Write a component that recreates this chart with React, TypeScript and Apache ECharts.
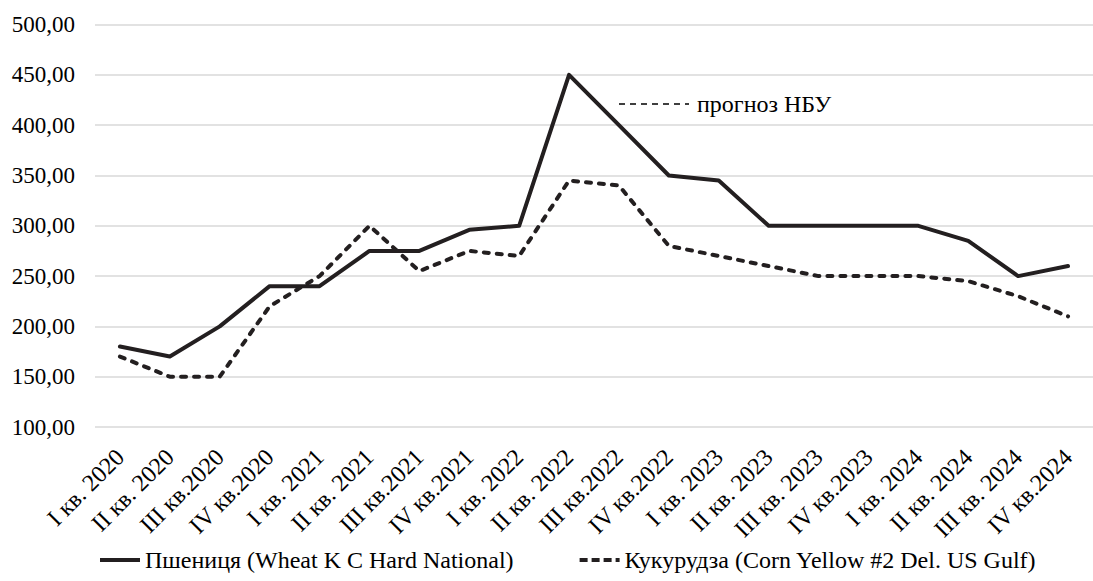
import React, { useEffect, useRef } from "react";
import * as echarts from "echarts";

const categories = [
  "I кв. 2020", "II кв. 2020", "III кв.2020", "IV кв.2020",
  "I кв. 2021", "II кв. 2021", "III кв.2021", "IV кв.2021",
  "I кв. 2022", "II кв. 2022", "III кв.2022", "IV кв.2022",
  "I кв. 2023", "II кв. 2023", "III кв. 2023", "IV кв.2023",
  "I кв. 2024", "II кв. 2024", "III кв. 2024", "IV кв.2024",
];

const wheat = [180, 170, 200, 240, 240, 275, 275, 296, 300, 450, 400, 350, 345, 300, 300, 300, 300, 285, 250, 260];
const corn = [170, 150, 150, 220, 250, 300, 255, 275, 270, 345, 340, 280, 270, 260, 250, 250, 250, 245, 230, 210];

const wheatName = "Пшениця (Wheat K C Hard National)";
const cornName = "Кукурудза (Corn Yellow #2 Del. US Gulf)";
const noteText = "прогноз НБУ";

const FONT = "Liberation Serif";
const INK = "#231f20";

const solidIcon = "path://M0,0H40V4H0Z";
const dashedIcon = "path://M0,0H8V4H0Z M12,0H20V4H12Z M24,0H32V4H24Z M36,0H40V4H36Z";

export default function App() {
  const ref = useRef<HTMLDivElement>(null);
  useEffect(() => {
    if (!ref.current) return;
    const chart = echarts.init(ref.current, undefined, { renderer: "svg" });
    chart.setOption({
      animation: false,
      backgroundColor: "#ffffff",
      textStyle: { fontFamily: FONT },
      grid: { left: 95, top: 24.6, width: 1008, height: 402.4, containLabel: false },
      xAxis: {
        type: "category",
        data: categories,
        boundaryGap: true,
        axisLine: { show: false },
        axisTick: { show: false },
        axisLabel: { rotate: 45, interval: 0, margin: 26, fontSize: 24, color: "#000", fontFamily: FONT },
      },
      yAxis: {
        type: "value",
        min: 100,
        max: 500,
        interval: 50,
        axisLine: { show: false },
        axisTick: { show: false },
        splitLine: { lineStyle: { color: "#d9d9d9", width: 1.5 } },
        axisLabel: {
          fontSize: 23,
          color: "#000",
          fontFamily: FONT,
          margin: 20,
          formatter: (v: number) => v.toFixed(2).replace(".", ","),
        },
      },
      legend: {
        bottom: 4,
        left: 95,
        itemWidth: 40,
        itemHeight: 4,
        itemGap: 66,
        textStyle: { fontSize: 24, color: "#000", fontFamily: FONT },
        data: [
          { name: wheatName, icon: solidIcon, itemStyle: { color: INK } },
          { name: cornName, icon: dashedIcon, itemStyle: { color: INK } },
        ],
      },
      series: [
        {
          name: wheatName,
          type: "line",
          data: wheat,
          symbol: "none",
          lineStyle: { color: INK, width: 4, cap: "round", join: "round" },
          itemStyle: { color: INK },
        },
        {
          name: cornName,
          type: "line",
          data: corn,
          symbol: "none",
          lineStyle: { color: INK, width: 4, type: [5, 8], cap: "round", join: "round" },
          itemStyle: { color: INK },
        },
      ],
      graphic: [
        {
          type: "line",
          shape: { x1: 619, y1: 104, x2: 689, y2: 104 },
          style: { stroke: "#000", lineWidth: 1.5, lineDash: [6, 5] },
        },
        {
          type: "text",
          x: 697,
          y: 104,
          style: { text: noteText, fontSize: 24, fontFamily: FONT, fill: "#000", verticalAlign: "middle" },
        },
      ],
    });
    return () => chart.dispose();
  }, []);
  return (
    <div
      ref={ref}
      style={{ position: "absolute", left: 0, top: 0, width: 1093, height: 581 }}
    />
  );
}
